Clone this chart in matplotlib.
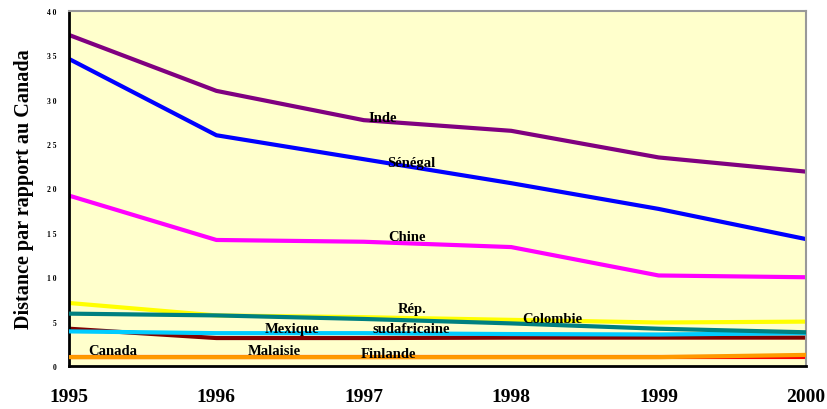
import matplotlib.pyplot as plt
import numpy as np

# data
years = [1995, 1996, 1997, 1998, 1999, 2000]
inde = [37.3, 31.0, 27.7, 26.5, 23.5, 21.9]
senegal = [34.6, 26.0, 23.3, 20.6, 17.7, 14.3]
chine = [19.2, 14.2, 14.0, 13.4, 10.2, 10.0]
rep_sudafricaine = [7.1, 5.7, 5.5, 5.2, 4.9, 5.0]
colombie = [5.9, 5.7, 5.3, 4.8, 4.2, 3.8]
mexique = [3.9, 3.7, 3.7, 3.6, 3.55, 3.7]
malaisie = [4.2, 3.15, 3.15, 3.2, 3.2, 3.2]
finlande = [1.0, 1.0, 1.0, 1.0, 1.0, 1.0]
canada = [1.0, 1.0, 1.0, 1.0, 1.0, 1.25]

yticks = [0, 5, 10, 15, 20, 25, 30, 35, 40]

# label positions (x in years, y in data units)
labels = ['Inde', 'Sénégal', 'Chine', 'Rép.', 'sudafricaine', 'Colombie',
          'Mexique', 'Canada', 'Malaisie', 'Finlande']
label_x = [1997.13, 1997.32, 1997.29, 1997.33, 1997.32, 1998.28,
           1996.51, 1995.30, 1996.39, 1997.17]
label_y = [28.05, 22.95, 14.6, 6.5, 4.17, 5.3, 4.17, 1.73, 1.73, 1.46]

plt.rcParams['font.family'] = ['Liberation Serif', 'DejaVu Serif']

fig = plt.figure(figsize=(8.28, 4.10), dpi=100)
ax = fig.add_axes([69 / 828, 1 - 367 / 410, (806 - 69) / 828, (367 - 12) / 410])
ax.set_facecolor('#FFFFCC')

lw = 3.0
ax.plot(years, finlande, color='#FF0000', lw=lw, zorder=2)
ax.plot(years, canada, color='#FF9900', lw=lw, zorder=3)
ax.plot(years, malaisie, color='#800000', lw=lw, zorder=2)
ax.plot(years, mexique, color='#00CCFF', lw=lw, zorder=3)
ax.plot(years, rep_sudafricaine, color='#FFFF00', lw=lw, zorder=2)
ax.plot(years, colombie, color='#008080', lw=lw, zorder=3)
ax.plot(years, chine, color='#FF00FF', lw=lw, zorder=2)
ax.plot(years, senegal, color='#0000FF', lw=lw, zorder=2)
ax.plot(years, inde, color='#800080', lw=lw, zorder=2)

for txt, x, y in zip(labels, label_x, label_y):
    ax.text(x, y, txt, ha='center', va='center', fontsize=10.5,
            fontweight='bold', color='black', zorder=5)

ax.set_xlim(1995, 2000)
ax.set_ylim(0, 40)
ax.set_xticks(years)
ax.set_xticklabels([str(y) for y in years], fontsize=14, fontweight='bold')
ax.set_yticks(yticks)
ax.set_yticklabels([' '.join(str(t)) for t in yticks], fontsize=5.5,
                   fontweight='bold')
ax.tick_params(axis='x', length=0, pad=16)
ax.tick_params(axis='y', length=0, pad=9)

ax.set_ylabel('Distance par rapport au Canada', fontsize=14.5, fontweight='bold',
              labelpad=9)

for side in ['left', 'bottom']:
    ax.spines[side].set_color('black')
    ax.spines[side].set_linewidth(2)
for side in ['top', 'right']:
    ax.spines[side].set_color('#999999')
    ax.spines[side].set_linewidth(1.5)

fig.savefig('out.png', dpi=100)
